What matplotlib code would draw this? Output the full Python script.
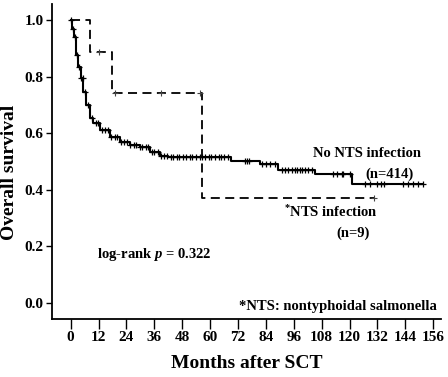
import matplotlib
matplotlib.use("Agg")
import matplotlib.pyplot as plt

plt.rcParams['font.family'] = ['Liberation Serif', 'DejaVu Serif']
plt.rcParams['font.weight'] = 'bold'
plt.rcParams['mathtext.fontset'] = 'custom'
plt.rcParams['mathtext.it'] = 'Liberation Serif:bold:italic'
plt.rcParams['mathtext.rm'] = 'Liberation Serif:bold'

# No NTS infection (n=414): survival curve readings (time in months, survival)
no_nts_t = [0, 0.4, 1.44, 2.26, 3.29, 4.31, 5.44, 6.57, 8.32, 9.75, 12.63, 16.94, 21.25,
            25.56, 29.77, 34.09, 38.4, 41.99, 69.2, 81.4, 89.2, 105.1, 120.9, 151.6]
no_nts_s = [1.0, 0.968, 0.941, 0.876, 0.835, 0.794, 0.747, 0.700, 0.653, 0.635, 0.611,
            0.588, 0.570, 0.558, 0.550, 0.535, 0.521, 0.517, 0.503, 0.491, 0.472,
            0.456, 0.420, 0.420]
no_nts_cens = [0.3, 1.0, 1.8, 2.8, 3.7, 4.6, 5.1, 6.2, 7.4, 9.2, 10.8, 11.8, 13.4, 14.9,
               15.9, 17.5, 19.0, 20.0, 21.6, 23.1, 24.1, 25.7, 27.2, 28.2, 29.8, 30.8,
               32.3, 33.4, 34.9, 35.9, 37.5, 39.0, 40.0, 41.6, 43.1, 44.2, 45.7, 46.7,
               48.3, 49.8, 51.3, 52.4, 53.9, 55.5, 56.5, 58.0, 59.6, 60.6, 62.1, 63.7,
               64.7, 66.2, 67.8, 75.1, 76.0, 76.9, 82.2, 84.1, 85.9, 87.8, 90.8, 92.2,
               93.6, 95.1, 96.5, 97.6, 98.7, 99.6, 100.8, 102.3, 103.7, 113.0, 114.5,
               116.7, 117.4, 120.2, 126.6, 128.8, 132.0, 133.4, 134.8, 143.2, 145.3,
               147.5, 149.6, 151.6]

# NTS infection (n=9)
nts_t = [0, 8.3, 17.7, 56.5, 130.4]
nts_s = [1.0, 0.889, 0.741, 0.370, 0.370]
nts_cens = [12.2, 19.1, 38.9, 55.6, 130.4]

x_ticks = [0, 12, 24, 36, 48, 60, 72, 84, 96, 108, 120, 132, 144, 156]
y_ticks = [0.0, 0.2, 0.4, 0.6, 0.8, 1.0]


def step_value(ts, ss, t):
    v = ss[0]
    for ti, si in zip(ts, ss):
        if ti <= t:
            v = si
    return v


fig = plt.figure(figsize=(4.48, 3.77), dpi=100)
ax = fig.add_axes([0.116, 0.154, 0.868, 0.835])

ax.step(no_nts_t, no_nts_s, where='post', color='black', lw=1.5)
ax.plot(no_nts_cens, [step_value(no_nts_t, no_nts_s, c) for c in no_nts_cens],
        linestyle='none', marker='+', color='black', ms=5, mew=0.9)

ax.step(nts_t, nts_s, where='post', color='black', lw=1.3, linestyle=(0, (5, 3)))
ax.plot(nts_cens, [step_value(nts_t, nts_s, c) for c in nts_cens],
        linestyle='none', marker='+', color='#444444', ms=5, mew=0.8)

ax.set_xlim(-8.05, 159.3)
ax.set_ylim(-0.0565, 1.057)
ax.set_xticks(x_ticks)
ax.set_yticks(y_ticks)
ax.set_yticklabels([f"{v:.1f}" for v in y_ticks])
for s in ['top', 'right']:
    ax.spines[s].set_visible(False)
for s in ['left', 'bottom']:
    ax.spines[s].set_linewidth(1.3)
ax.tick_params(axis='x', length=7, width=1.0, pad=2, labelsize=11)
ax.tick_params(axis='y', length=4, width=1.0, pad=2, labelsize=11)
for lab in ax.get_xticklabels() + ax.get_yticklabels():
    lab.set_fontweight('bold')

ax.set_xlabel('Months after SCT', fontsize=14, fontweight='bold')
ax.set_ylabel('Overall survival', fontsize=14, fontweight='bold')
ax.xaxis.set_label_coords(0.5, -0.115)
ax.yaxis.set_label_coords(-0.087, 0.467)

fs = 10.5
ax.text(127.5, 0.527, 'No NTS infection', ha='center', va='center', fontsize=fs, fontweight='bold')
ax.text(137.4, 0.456, '(n=414)', ha='center', va='center', fontsize=fs, fontweight='bold')
ax.text(111.8, 0.323, '$^{*}$NTS infection', ha='center', va='center', fontsize=fs, fontweight='bold')
ax.text(121.7, 0.247, '(n=9)', ha='center', va='center', fontsize=fs, fontweight='bold')
ax.text(35.9, 0.170, 'log-rank $p$ = 0.322', ha='center', va='center', fontsize=fs, fontweight='bold')
ax.text(115.2, -0.013, '*NTS: nontyphoidal salmonella', ha='center', va='center', fontsize=fs, fontweight='bold')

fig.savefig('out.png', dpi=100)
